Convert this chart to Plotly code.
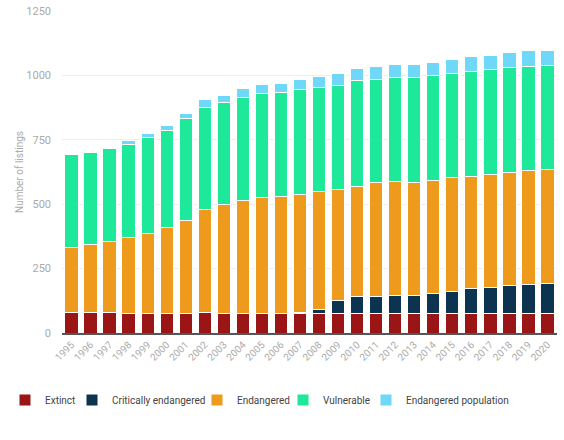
import plotly.graph_objects as go

years = [str(y) for y in range(1995, 2021)]

extinct = [78, 78, 78, 74, 74, 74, 74, 79, 74, 74, 74, 74, 75, 75, 75, 75, 75, 75, 75, 75, 75, 75, 75, 75, 75, 75]
critically_endangered = [0, 0, 0, 0, 0, 0, 0, 0, 0, 0, 0, 0, 5, 15, 52, 68, 68, 71, 71, 77, 88, 97, 103, 110, 115, 119]
endangered = [254, 267, 277, 296, 313, 334, 361, 400, 425, 439, 451, 456, 456, 458, 431, 427, 440, 441, 440, 440, 441, 437, 436, 437, 440, 440]
vulnerable = [360, 355, 363, 363, 372, 380, 397, 398, 396, 402, 404, 403, 409, 405, 403, 409, 403, 404, 405, 407, 404, 407, 409, 407, 406, 406]
endangered_population = [0, 0, 0, 13, 17, 16, 19, 30, 27, 33, 37, 37, 38, 42, 47, 46, 47, 51, 51, 50, 54, 58, 56, 58, 60, 56]

y_ticks = [0, 250, 500, 750, 1000, 1250]

series_names = ["Extinct", "Critically endangered", "Endangered", "Vulnerable", "Endangered population"]
series_values = [extinct, critically_endangered, endangered, vulnerable, endangered_population]
series_colors = ["#9a1515", "#0c3350", "#ee9b1d", "#1ee99a", "#6fd7f7"]
legend_ids = ["legend", "legend2", "legend3", "legend4", "legend5"]
legend_left_px = [5, 72, 197, 283, 366]

W, H = 564, 440

fig = go.Figure()
for name, vals, color, lid in zip(series_names, series_values, series_colors, legend_ids):
    fig.add_trace(go.Bar(
        x=years, y=vals, name=name, legend=lid,
        marker=dict(color=color, line=dict(color="white", width=1)),
    ))

font_family = "Roboto, 'Open Sans', sans-serif"

legend_common = dict(
    orientation="h",
    xref="container", yref="container",
    xanchor="left", yanchor="middle",
    y=1 - 400 / H,
    font=dict(size=10, color="#444444"),
    bgcolor="rgba(0,0,0,0)",
    borderwidth=0,
)

layout_legends = {}
for lid, px in zip(legend_ids, legend_left_px):
    layout_legends[lid] = dict(legend_common, x=px / W)

fig.update_layout(
    barmode="stack",
    bargap=0.3,
    width=W, height=H,
    margin=dict(l=62, r=7, t=11, b=107, autoexpand=False),
    paper_bgcolor="white",
    plot_bgcolor="white",
    font=dict(family=font_family, color="#999999", size=11),
    showlegend=True,
    xaxis=dict(
        type="category",
        tickangle=-45,
        tickfont=dict(size=10, color="#aaaaaa"),
        showgrid=False,
        showline=True, linecolor="#555555", linewidth=2,
        ticks="",
        automargin=False,
    ),
    yaxis=dict(
        range=[0, 1250],
        tickvals=y_ticks,
        ticktext=[str(v) for v in y_ticks],
        tickfont=dict(size=11, color="#aaaaaa"),
        ticklabelstandoff=10,
        showgrid=True, gridcolor="#eeeeee", gridwidth=1,
        zeroline=False,
        showline=False,
        ticks="",
        title=dict(text="Number of listings", font=dict(size=10, color="#aaaaaa"), standoff=0),
        automargin=False,
    ),
    **layout_legends,
)

fig.write_html(
    "out.html",
    config={"displayModeBar": False},
    post_script="document.body.style.margin='0';document.body.style.overflow='hidden';",
)
